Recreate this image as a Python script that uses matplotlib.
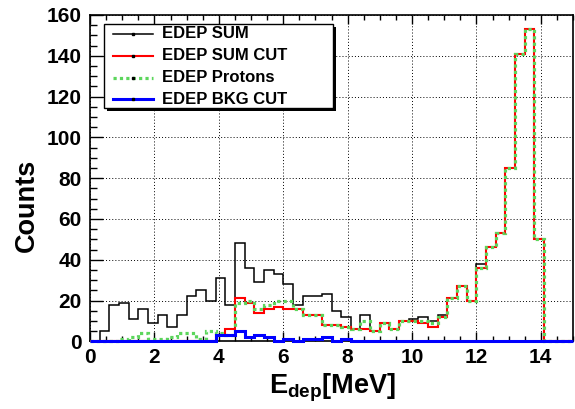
import numpy as np
import matplotlib
matplotlib.use('Agg')
import matplotlib.pyplot as plt
from matplotlib.patches import Rectangle
from matplotlib.lines import Line2D
from matplotlib.ticker import MultipleLocator

# ---------------- data (50 bins, 0 - 15 MeV) ----------------
x_low, x_high, n_bins = 0.0, 15.0, 50

edep_sum = [0, 5, 18, 19, 11, 16, 9, 13, 7, 13,
            22, 25, 20, 31, 18, 48, 36, 29, 35, 33,
            28, 18, 22, 22, 23, 15, 12, 6, 13, 5,
            9, 6, 10, 11, 12, 10, 13, 21, 27, 20,
            38, 46, 53, 85, 141, 153, 50, 0, 0, 0]

edep_sum_cut = [0, 0, 0, 0, 0, 0, 0, 0, 0, 0,
                0, 0, 0, 3, 6, 21, 19, 14, 16, 17,
                16, 16, 13, 13, 8, 8, 7, 6, 6, 5,
                9, 6, 10, 10, 9, 7, 12, 21, 27, 20,
                36, 46, 53, 85, 141, 153, 50, 0, 0, 0]

edep_protons = [0, 0, 0, 1, 2, 4, 1, 1, 2, 4,
                4, 1, 5, 4, 3, 19, 20, 16, 18, 20,
                20, 16, 13, 13, 8, 8, 7, 6, 10, 5,
                9, 6, 10, 10, 10, 9, 12, 21, 27, 20,
                36, 46, 53, 85, 141, 153, 50, 0, 0, 0]

edep_bkg_cut = [0, 0, 0, 0, 0, 0, 0, 0, 0, 0,
                0, 0, 0, 3, 3, 5, 2, 3, 2, 0,
                1, 0, 1, 1, 2, 0, 1, 0, 0, 0,
                0, 0, 0, 0, 0, 0, 0, 0, 0, 0,
                0, 0, 0, 0, 0, 0, 0, 0, 0, 0]

series_labels = ["EDEP SUM", "EDEP SUM CUT", "EDEP Protons", "EDEP BKG CUT"]
x_ticks = [0, 2, 4, 6, 8, 10, 12, 14]
y_ticks = [0, 20, 40, 60, 80, 100, 120, 140, 160]

# ---------------- style ----------------
FONT = 'Liberation Sans'
plt.rcParams['font.family'] = [FONT, 'DejaVu Sans']
plt.rcParams['font.weight'] = 'bold'
plt.rcParams['mathtext.fontset'] = 'custom'
plt.rcParams['mathtext.bf'] = FONT + ':bold'
plt.rcParams['mathtext.rm'] = FONT + ':bold'
plt.rcParams['mathtext.it'] = FONT + ':bold'

W, H = 575, 409
fig = plt.figure(figsize=(W / 100, H / 100), dpi=100)
fig.patch.set_facecolor('white')

ax_l, ax_r, ax_t, ax_b = 90, 573, 15, 341.3
ax = fig.add_axes([ax_l / W, 1 - ax_b / H, (ax_r - ax_l) / W, (ax_b - ax_t) / H])

edges = np.linspace(x_low, x_high, n_bins + 1)

styles = [
    dict(color='black', lw=1.1, ls='-', z=3),
    dict(color='#ff0000', lw=1.5, ls='-', z=4),
    dict(color='#5cd65c', lw=2.3, ls=(0, (1, 1)), z=5),
    dict(color='#0000ff', lw=2.2, ls='-', z=6),
]
series = [edep_sum, edep_sum_cut, edep_protons, edep_bkg_cut]

for vals, st in zip(series, styles):
    ax.stairs(vals, edges, baseline=0, fill=False, color=st['color'],
              linewidth=st['lw'], linestyle=st['ls'], zorder=st['z'],
              clip_on=False)

ax.set_xlim(x_low, x_high)
ax.set_ylim(0, 160)

ax.set_xticks(x_ticks)
ax.set_yticks(y_ticks)
ax.xaxis.set_minor_locator(MultipleLocator(0.5))
ax.yaxis.set_minor_locator(MultipleLocator(5))
ax.tick_params(axis='x', which='major', direction='in', length=6.5, width=1.0,
               top=True, bottom=True, pad=5, labelsize=15)
ax.tick_params(axis='x', which='minor', direction='in', length=3.6, width=1.0,
               top=True, bottom=True)
ax.tick_params(axis='y', which='major', direction='in', length=9.4, width=1.0,
               left=True, right=False, pad=5.8, labelsize=15)
ax.tick_params(axis='y', which='minor', direction='in', length=5.0, width=1.0,
               left=True, right=False)
for lab in ax.get_xticklabels() + ax.get_yticklabels():
    lab.set_fontweight('bold')

ax.grid(True, which='major', color='black', linestyle=(0, (1, 2.2)),
        linewidth=0.7, zorder=1)
ax.set_axisbelow(True)
for sp in ax.spines.values():
    sp.set_linewidth(1.2)
    sp.set_zorder(2.5)

# axis titles
fig.text(27 / W, 1 - 205 / H, 'Counts', rotation=90, ha='center', va='center',
         fontsize=19.5, fontweight='bold')
fig.text(333 / W, 1 - 394 / H, r'$\mathbf{E_{dep}}$[MeV]', ha='center',
         va='baseline', fontsize=19.5, fontweight='bold')

# legend (ROOT style box with shadow)
def fx(px):
    return px / W

def fy(py):
    return 1 - py / H

lx0, lx1, ly0, ly1 = 104, 333, 24, 108
fig.patches.append(Rectangle((fx(lx0 + 3), fy(ly1 + 3)), fx(lx1 - lx0), (ly1 - ly0) / H,
                             transform=fig.transFigure, facecolor='black',
                             edgecolor='black', lw=0, zorder=10))
fig.patches.append(Rectangle((fx(lx0), fy(ly1)), fx(lx1 - lx0), (ly1 - ly0) / H,
                             transform=fig.transFigure, facecolor='white',
                             edgecolor='black', lw=1.0, zorder=11))
rows_y = [34, 56, 78, 99]
for lab, st, ry in zip(series_labels, styles, rows_y):
    fig.lines.append(Line2D([fx(113), fx(153)], [fy(ry), fy(ry)],
                            transform=fig.transFigure, color=st['color'],
                            lw=st['lw'], ls=st['ls'], zorder=12))
    fig.lines.append(Line2D([fx(133)], [fy(ry)], transform=fig.transFigure,
                            marker='s', ms=1.5, color='black', lw=0, zorder=13))
    fig.text(fx(162), fy(ry), lab, ha='left', va='center', fontsize=12,
             fontweight='bold', zorder=13)

fig.savefig('out.png', dpi=100, facecolor='white')
